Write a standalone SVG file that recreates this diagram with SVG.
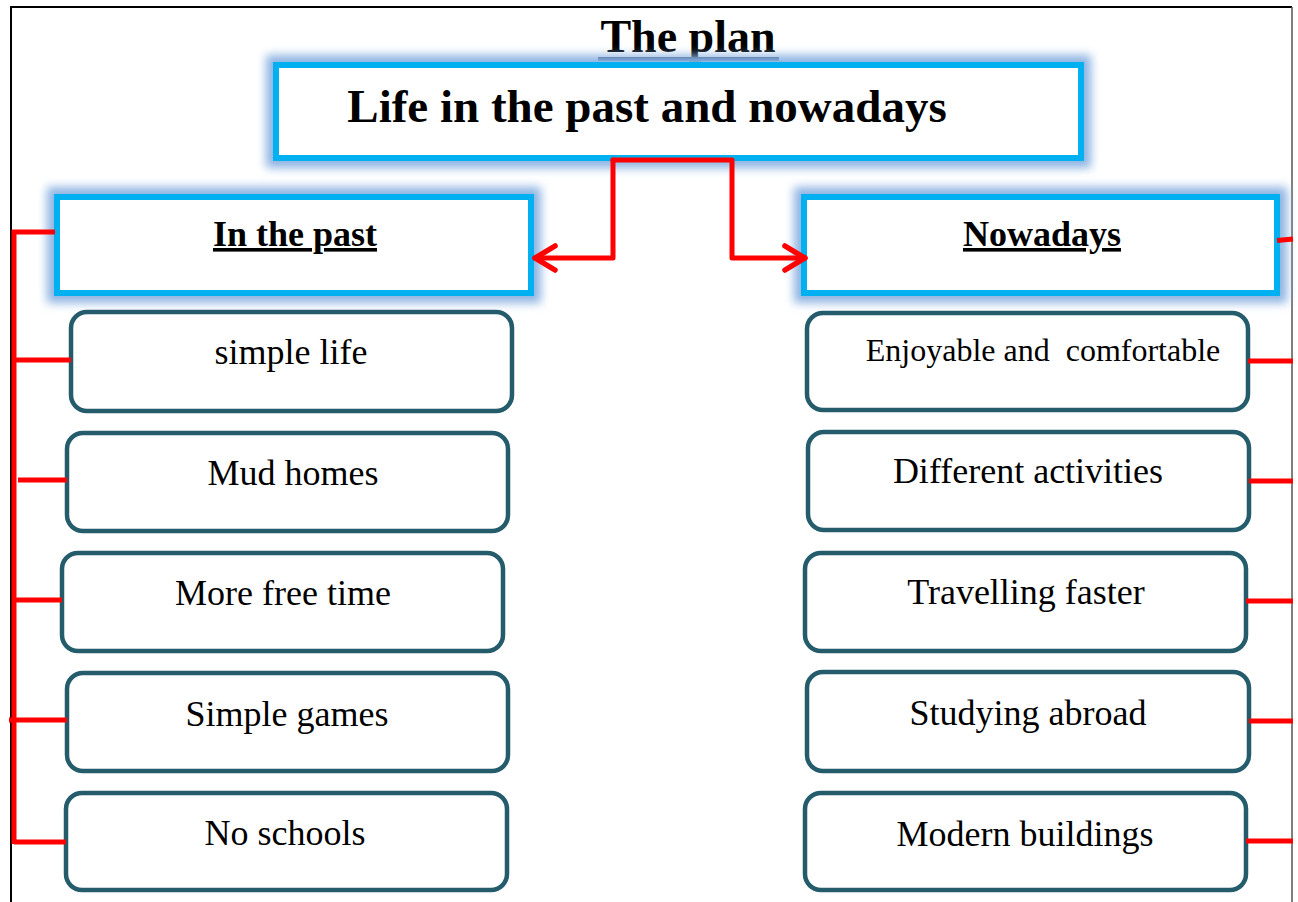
<svg xmlns="http://www.w3.org/2000/svg" width="1298" height="902" viewBox="0 0 1298 902">
<style>
.t{font-family:"Liberation Serif","Times New Roman",serif;fill:#000;text-anchor:middle}
.b{font-weight:bold}
.u{text-decoration:underline}
.head{fill:#fff;stroke:#00B0F0;stroke-width:6}
.glow{fill:none;stroke:#8DB4E2;stroke-width:20;filter:url(#blur)}
.item{fill:#fff;stroke:#245C6B;stroke-width:4.5}
.red{fill:none;stroke:#FF0000;stroke-width:5;stroke-linejoin:round;stroke-linecap:round}
.stub{fill:none;stroke:#FF0000;stroke-width:5}
</style>
<defs>
<filter id="blur" x="-10%" y="-40%" width="120%" height="180%"><feGaussianBlur stdDeviation="5"/></filter>
<marker id="arr" viewBox="0 0 26 30" refX="23" refY="15" markerWidth="26" markerHeight="30" markerUnits="userSpaceOnUse" orient="auto">
<path d="M3,3 L23,15 L3,27" fill="none" stroke="#FF0000" stroke-width="5.5" stroke-linecap="round" stroke-linejoin="round"/>
</marker>
</defs>
<rect width="1298" height="902" fill="#fff"/>
<g id="page-border" fill="none">
<path d="M11,902 L11,7 L1292,7" stroke="#000" stroke-width="2"/>
<path d="M1292,7 L1292,902" stroke="#555" stroke-width="1.5"/>
</g>
<g id="title">
<text class="t b" x="688" y="52" font-size="46">The plan</text>
<rect x="598" y="57" width="181" height="4" fill="#17365D"/>
</g>
<g id="main">
<rect class="glow" x="276" y="65" width="805" height="93"/>
<rect class="head" x="276" y="65" width="805" height="93"/>
<text class="t b" x="647" y="122" font-size="47">Life in the past and nowadays</text>
</g>
<g id="past">
<rect class="glow" x="57" y="197" width="474" height="96"/>
<rect class="head" x="57" y="197" width="474" height="96"/>
<text class="t b u" x="295" y="246" font-size="36">In the past</text>
</g>
<g id="nowadays">
<rect class="glow" x="804" y="197" width="473" height="96"/>
<rect class="head" x="804" y="197" width="473" height="96"/>
<text class="t b u" x="1042" y="246" font-size="36">Nowadays</text>
</g>
<g id="past-1"><rect class="item" x="71" y="312" width="441" height="99" rx="16"/><text class="t" x="291" y="364" font-size="36">simple life</text></g>
<g id="past-2"><rect class="item" x="67" y="433" width="441" height="98" rx="16"/><text class="t" x="293" y="485" font-size="36">Mud homes</text></g>
<g id="past-3"><rect class="item" x="62" y="553" width="441" height="98" rx="16"/><text class="t" x="283" y="605" font-size="36">More free time</text></g>
<g id="past-4"><rect class="item" x="67" y="673" width="441" height="98" rx="16"/><text class="t" x="287" y="726" font-size="36">Simple games</text></g>
<g id="past-5"><rect class="item" x="66" y="793" width="441" height="97" rx="16"/><text class="t" x="285" y="845" font-size="36">No schools</text></g>
<g id="now-1"><rect class="item" x="807" y="313" width="441" height="97" rx="16" stroke-width="7"/><text class="t" x="1043" y="361" font-size="32" xml:space="preserve">Enjoyable and  comfortable</text></g>
<g id="now-2"><rect class="item" x="808" y="432" width="441" height="98" rx="16"/><text class="t" x="1028" y="483" font-size="36">Different activities</text></g>
<g id="now-3"><rect class="item" x="805" y="553" width="441" height="98" rx="16"/><text class="t" x="1026" y="604" font-size="36">Travelling faster</text></g>
<g id="now-4"><rect class="item" x="807" y="672" width="442" height="99" rx="16"/><text class="t" x="1028" y="725" font-size="36">Studying abroad</text></g>
<g id="now-5"><rect class="item" x="805" y="793" width="441" height="97" rx="16"/><text class="t" x="1025" y="846" font-size="36">Modern buildings</text></g>
<g id="connectors">
<path class="red" d="M613,160 L613,258 L535,258" marker-end="url(#arr)"/>
<path class="red" d="M613,160 L732,160 L732,258 L805,258" marker-end="url(#arr)"/>
<path class="stub" d="M14,230 L14,844"/>
<path class="stub" d="M12,232 L55,232"/>
<path class="stub" d="M16,360 L71,360"/>
<path class="stub" d="M18,480 L67,480"/>
<path class="stub" d="M14,600 L62,600"/>
<path class="stub" d="M9,720 L67,720"/>
<path class="stub" d="M14,842 L66,842"/>
<path class="stub" d="M1277,240.5 L1293,239"/>
<path class="stub" d="M1248,361 L1293,361"/>
<path class="stub" d="M1249,481 L1293,481"/>
<path class="stub" d="M1246,601 L1293,601"/>
<path class="stub" d="M1249,721 L1293,721"/>
<path class="stub" d="M1246,841 L1293,841"/>
</g>
</svg>
